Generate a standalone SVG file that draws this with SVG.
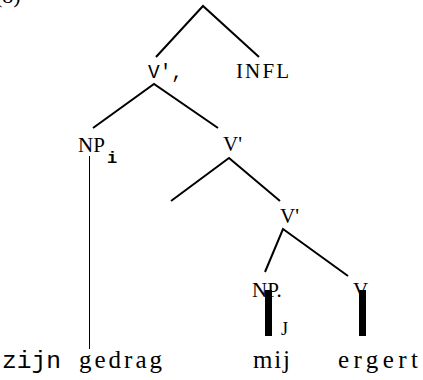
<svg xmlns="http://www.w3.org/2000/svg" width="423" height="380" viewBox="0 0 423 380">
<style>
.br{stroke:#000;stroke-width:2;fill:none;stroke-linecap:butt}
.thin{stroke:#000;stroke-width:1;fill:none}
.bar{fill:#000}
</style>
<rect width="423" height="380" fill="#fff"/>
<g font-family="Liberation Serif, Times New Roman, serif" fill="#000">
<text x="-5" y="3" font-size="22">(8)</text>
</g>
<g id="connectors">
<polyline class="br" points="156,57 203,6 259,57"/>
<polyline class="br" points="93,128 154,84 218,128"/>
<polyline class="br" points="171,201 229,158 280,201"/>
<polyline class="br" points="265,272 283,229 348,276"/>
<line class="thin" x1="89.5" y1="156" x2="89.5" y2="349"/>
<rect class="bar" x="265" y="290" width="7" height="46"/>
<rect class="bar" x="359" y="290" width="7" height="46"/>
</g>
<g font-family="Liberation Serif, Times New Roman, serif" font-size="21" fill="#000">
<g id="vbar2"><text x="148" y="78" font-family="Liberation Mono, Courier New, monospace" font-size="21" textLength="35" lengthAdjust="spacingAndGlyphs">V',</text></g>
<g id="infl"><text x="236" y="78" textLength="53" lengthAdjust="spacing">INFL</text></g>
<g id="np-i"><text x="78" y="152">NP</text><text x="107" y="163" font-family="Liberation Mono, Courier New, monospace" font-size="17" font-weight="bold">i</text></g>
<g id="vbar1"><text x="223" y="151">V'</text></g>
<g id="vbar0"><text x="280" y="223">V'</text></g>
<g id="np-j"><text x="252" y="297">NP.</text><text x="281" y="335" font-size="18">J</text></g>
<g id="v"><text x="353" y="297">V</text></g>
</g>
<g id="words" font-family="Liberation Serif, Times New Roman, serif" font-size="25" fill="#000">
<text x="2" y="368" font-family="Liberation Mono, Courier New, monospace" font-size="24" textLength="59" lengthAdjust="spacingAndGlyphs">zijn</text>
<text x="79" y="368" textLength="83" lengthAdjust="spacing">gedrag</text>
<text x="253" y="368" textLength="37" lengthAdjust="spacing">mij</text>
<text x="338" y="368" textLength="80" lengthAdjust="spacing">ergert</text>
</g>
</svg>
